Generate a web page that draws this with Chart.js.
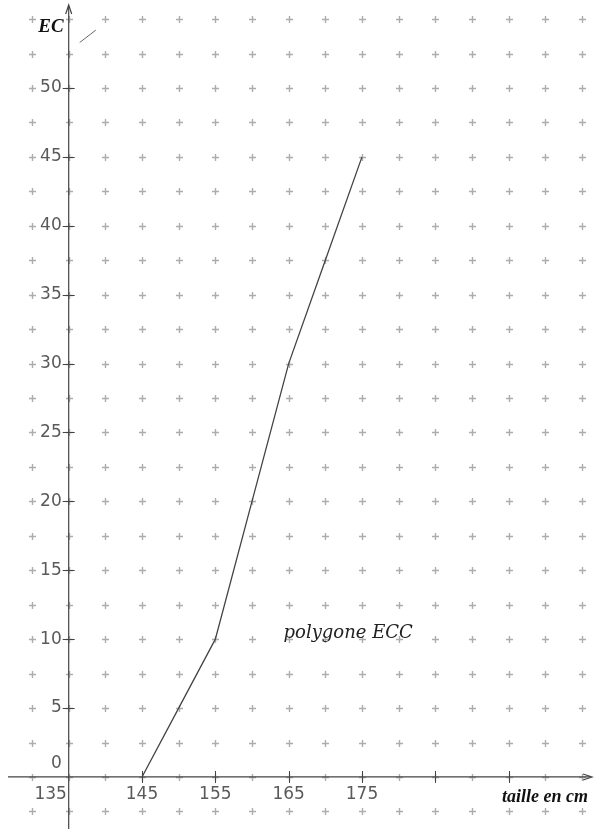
<!DOCTYPE html>
<html>
<head>
<meta charset="utf-8">
<script src="https://cdn.jsdelivr.net/npm/chart.js@4/dist/chart.umd.min.js"></script>
<style>
  html, body { margin: 0; padding: 0; background: #fff; }
  #wrap { width: 595px; height: 829px; position: relative; }
</style>
</head>
<body>
<div id="wrap"><canvas id="ecc"></canvas></div>
<script>
// DONNEES
const tailles = [145, 150, 155, 160, 165, 170, 175];
const effectifs = [0, 5, 10, 20, 30, 37.5, 45];

const xLabels = [135, 145, 155, 165, 175];
const xTicks = [145, 155, 165, 175, 185, 195];
const yLabels = [0, 5, 10, 15, 20, 25, 30, 35, 40, 45, 50];

// grille de croix (pas 5 en x, 2.5 en y)
const gridX = [130, 135, 140, 145, 150, 155, 160, 165, 170, 175, 180, 185, 190, 195, 200, 205];
const gridY = [-2.5, 0, 2.5, 5, 7.5, 10, 12.5, 15, 17.5, 20, 22.5, 25, 27.5, 30, 32.5, 35, 37.5, 40, 42.5, 45, 47.5, 50, 52.5, 55];

const axeColor = '#444';

// dessin du repere
const repere = {
    id: 'repere',
    beforeDatasetsDraw(chart) {
        const ctx = chart.ctx;
        const x = chart.scales.x;
        const y = chart.scales.y;
        const x0 = x.getPixelForValue(135);
        const y0 = y.getPixelForValue(0);

        ctx.save();

        // croix
        ctx.strokeStyle = '#adadad';
        ctx.lineWidth = 1.4;
        gridX.forEach(gx => {
            gridY.forEach(gy => {
                const px = Math.round(x.getPixelForValue(gx)) + 0.5;
                const py = Math.round(y.getPixelForValue(gy)) + 0.5;
                ctx.beginPath();
                ctx.moveTo(px - 3.5, py);
                ctx.lineTo(px + 3.5, py);
                ctx.moveTo(px, py - 3.5);
                ctx.lineTo(px, py + 3.5);
                ctx.stroke();
            });
        });

        // axes
        ctx.strokeStyle = axeColor;
        ctx.lineWidth = 1.2;
        ctx.beginPath();
        ctx.moveTo(x0, 829);
        ctx.lineTo(x0, 6);
        ctx.moveTo(8, y0);
        ctx.lineTo(591, y0);
        ctx.stroke();

        // fleches
        ctx.beginPath();
        ctx.moveTo(x0 - 3, 14);
        ctx.lineTo(x0, 5);
        ctx.lineTo(x0 + 3, 14);
        ctx.moveTo(583, y0 - 3);
        ctx.lineTo(592, y0);
        ctx.lineTo(583, y0 + 3);
        ctx.stroke();

        // graduations
        ctx.lineWidth = 1;
        xTicks.forEach(v => {
            const px = Math.round(x.getPixelForValue(v)) + 0.5;
            ctx.beginPath();
            ctx.moveTo(px, y0 - 6);
            ctx.lineTo(px, y0 + 6);
            ctx.stroke();
        });
        yLabels.forEach(v => {
            if (v === 0) return;
            const py = Math.round(y.getPixelForValue(v)) + 0.5;
            ctx.beginPath();
            ctx.moveTo(x0 - 6, py);
            ctx.lineTo(x0 + 6, py);
            ctx.stroke();
        });

        // petit trait en haut
        ctx.strokeStyle = '#666';
        ctx.beginPath();
        ctx.moveTo(x.getPixelForValue(136.5), y.getPixelForValue(53.3));
        ctx.lineTo(x.getPixelForValue(138.7), y.getPixelForValue(54.2));
        ctx.stroke();

        // etiquettes
        ctx.fillStyle = '#5a5a5a';
        ctx.font = '17px "DejaVu Sans"';
        ctx.textBaseline = 'middle';
        ctx.textAlign = 'right';
        yLabels.forEach(v => {
            if (v === 0) {
                ctx.fillText('0', x0 - 7, y0 - 13);
            } else {
                ctx.fillText(String(v), x0 - 7, y.getPixelForValue(v));
            }
        });
        ctx.textAlign = 'center';
        xLabels.forEach(v => {
            let px = x.getPixelForValue(v);
            if (v === 135) px -= 18;
            ctx.fillText(String(v), px, y0 + 18);
        });

        // titres
        ctx.fillStyle = '#111';
        ctx.font = 'italic bold 18px "Liberation Serif"';
        ctx.textAlign = 'right';
        ctx.fillText('taille en cm', 588, y0 + 20);
        ctx.font = 'italic bold 19px "Liberation Serif"';
        ctx.fillText('EC', x0 - 5, 27);
        ctx.fillStyle = '#222';
        ctx.font = 'italic 18px "DejaVu Serif"';
        ctx.textAlign = 'left';
        ctx.fillText('polygone ECC', x.getPixelForValue(164.3), y.getPixelForValue(10.4));

        ctx.restore();
    }
};

const eccCtx = document.getElementById('ecc').getContext('2d');
const eccChart = new Chart(eccCtx, {
    type: 'scatter',
    data: {
        datasets: [{
            label: 'ECC',
            data: tailles.map((t, i) => ({ x: t, y: effectifs[i] })),
            showLine: true,
            borderColor: '#444',
            borderWidth: 1.3,
            pointRadius: 0,
            tension: 0
        }]
    },
    options: {
        responsive: true,
        maintainAspectRatio: false,
        animation: false,
        layout: {
            padding: { left: 2.7, right: 5.7, top: 5.3, bottom: 3.8 }
        },
        plugins: {
            legend: { display: false },
            tooltip: { enabled: false }
        },
        scales: {
            x: { type: 'linear', min: 126, max: 206, display: false },
            y: { type: 'linear', min: -3.5, max: 56, display: false }
        }
    },
    plugins: [repere]
});
</script>
</body>
</html>
